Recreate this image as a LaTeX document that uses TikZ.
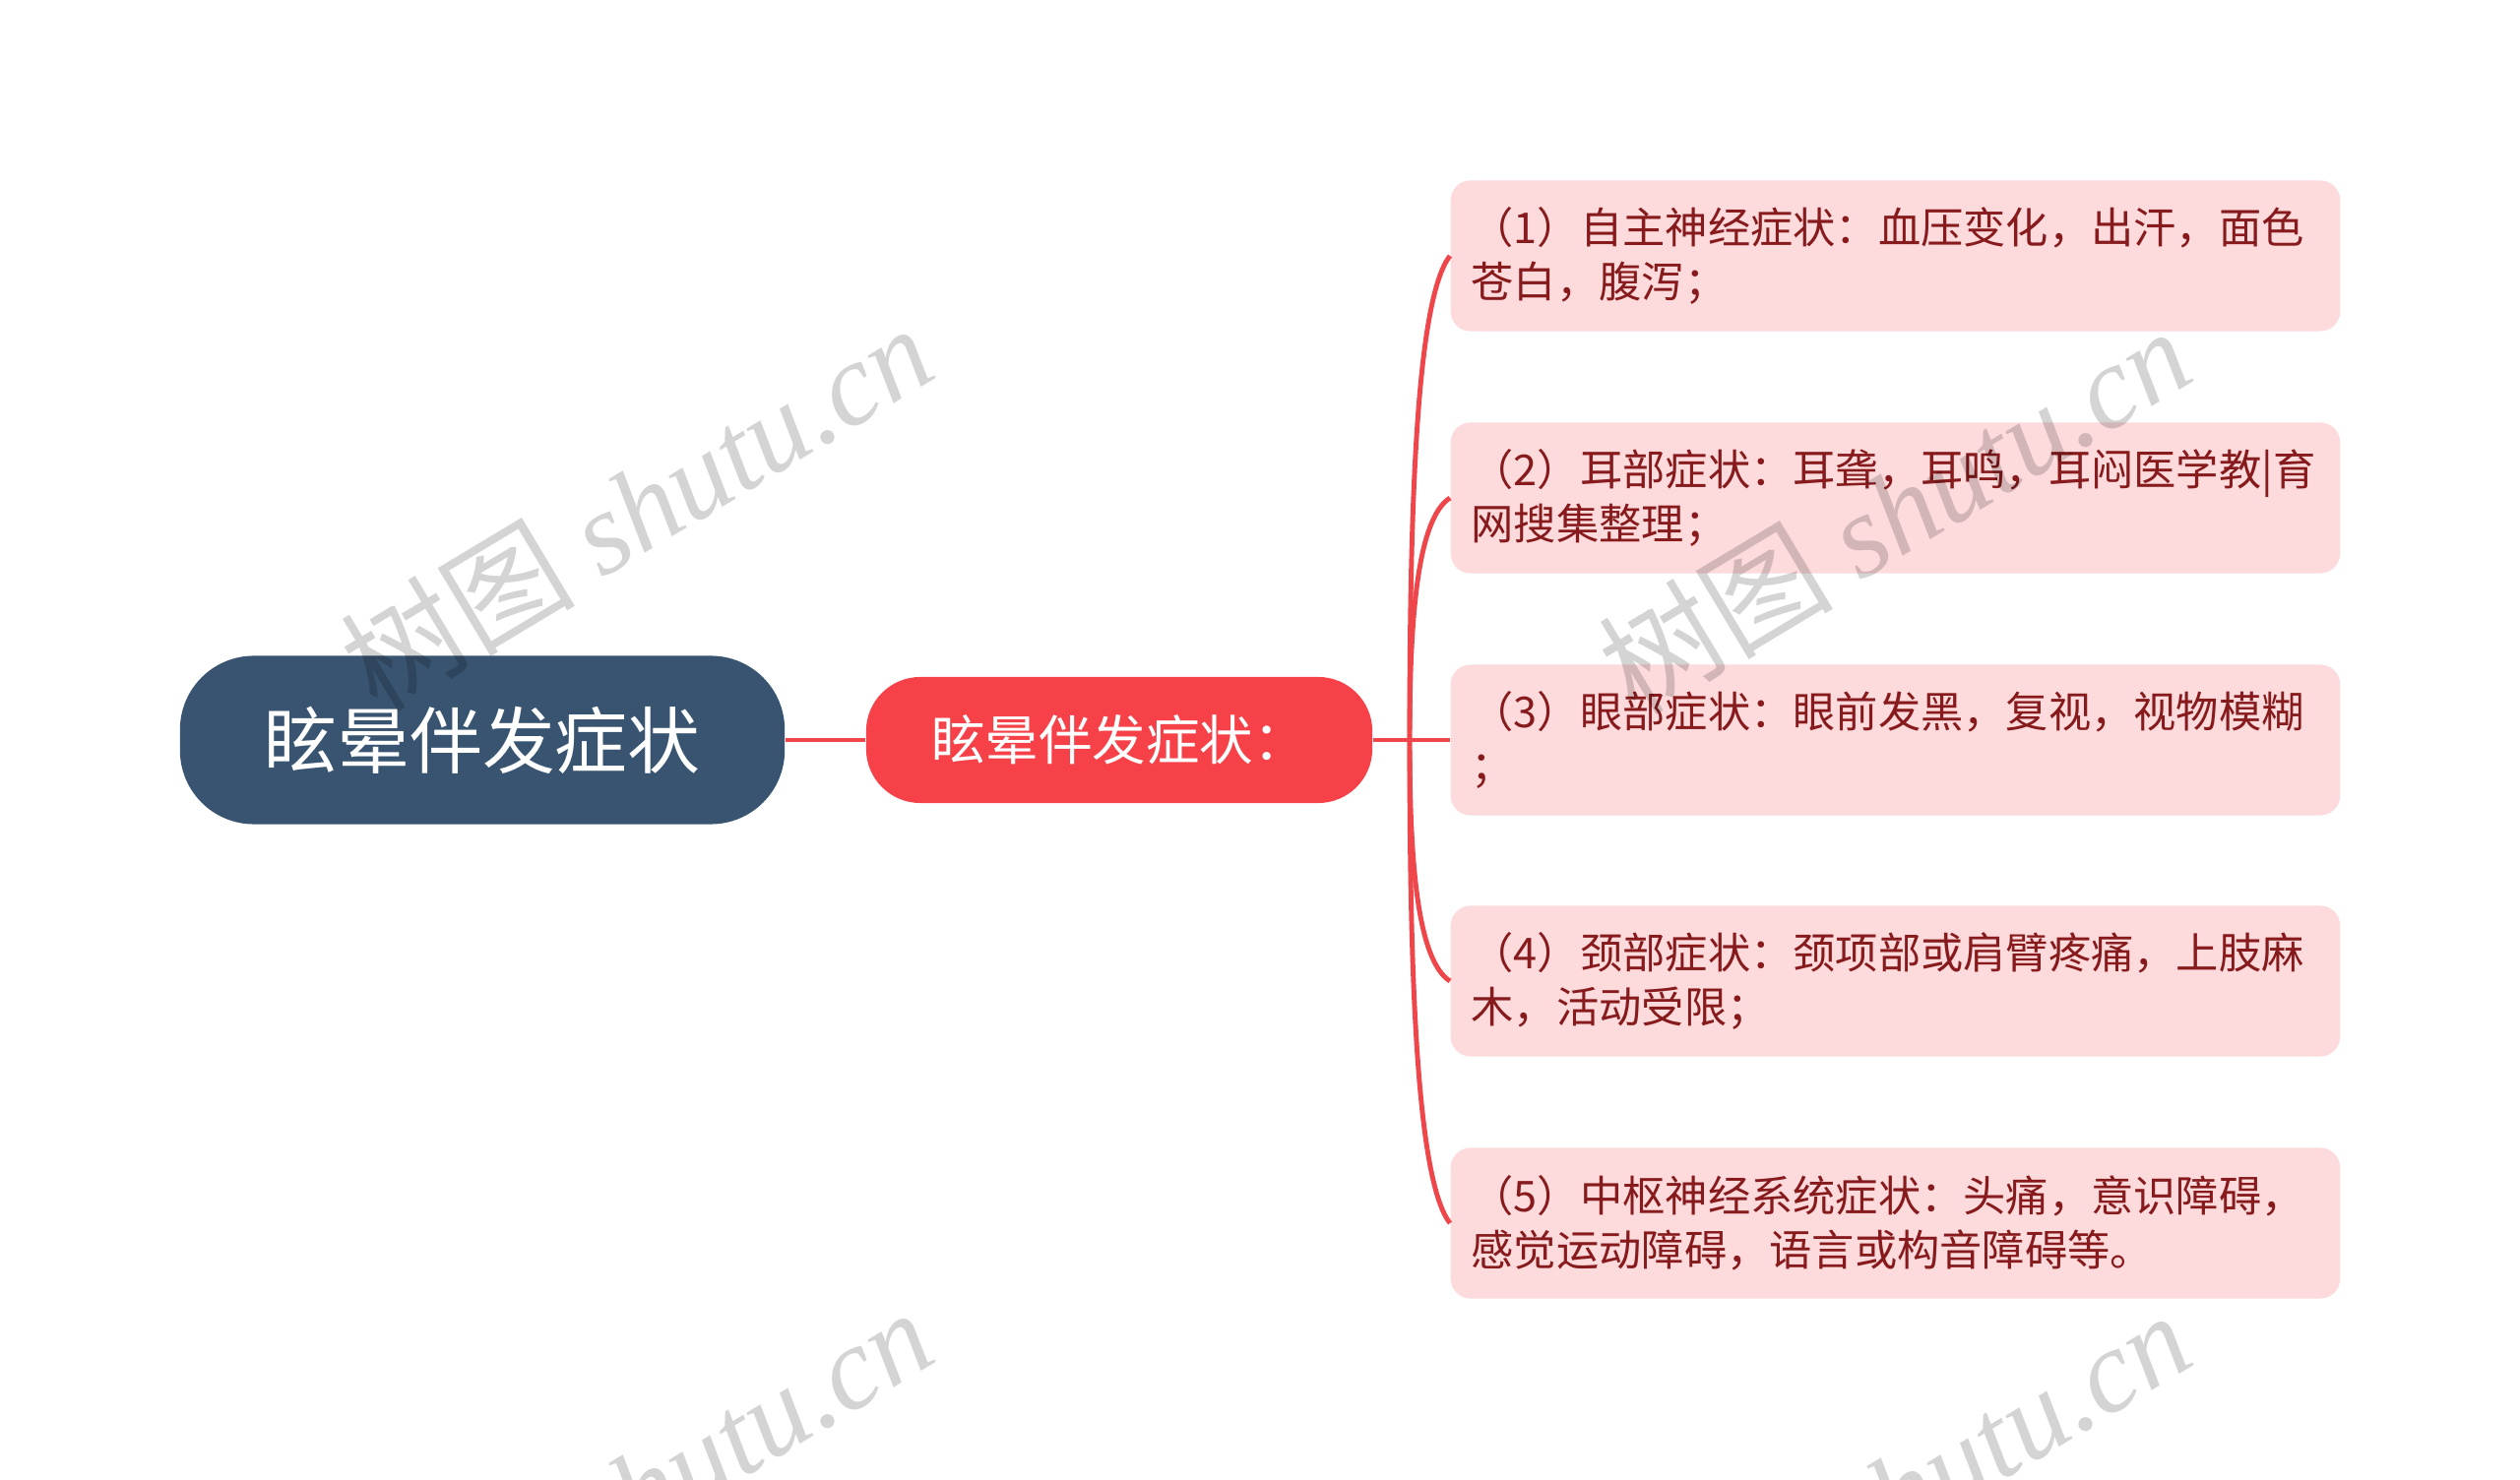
\documentclass[tikz,border=0pt]{standalone}
\usepackage{fontspec}
\setmainfont{Noto Sans CJK SC}
\newfontfamily\cjkfont{Noto Sans CJK SC}
\newfontfamily\wmserif{Liberation Serif}
\definecolor{rootc}{HTML}{385470}
\definecolor{midc}{HTML}{F64148}
\definecolor{leafc}{HTML}{FDDADB}
\definecolor{leaftext}{HTML}{861A1C}
\definecolor{linec}{HTML}{EF464B}
\begin{document}
\begin{tikzpicture}[x=0.01cm,y=-0.01cm,
  rootbox/.style={rectangle, rounded corners=0.75cm, fill=rootc, text=white,
    font=\fontsize{21}{25}\selectfont, minimum width=6.14cm, minimum height=1.71cm, inner sep=0pt},
  midbox/.style={rectangle, rounded corners=0.55cm, fill=midc, text=white,
    font=\fontsize{15.5}{19}\selectfont, minimum width=5.14cm, minimum height=1.28cm, inner sep=0pt},
  leafbox/.style={rectangle, rounded corners=0.2cm, fill=leafc, text=leaftext,
    font=\fontsize{12.3}{15.6}\selectfont, minimum width=9.03cm, minimum height=1.53cm,
    text width=8.61cm, inner xsep=0.21cm, inner ysep=0pt, align=left, anchor=west},
  link/.style={draw=linec, line width=1.4pt},
  wm/.style={rotate=31, text=black, text opacity=0.17, inner sep=0pt,
    font=\fontsize{34}{40}\selectfont}
]
\useasboundingbox (0,0) rectangle (2560,1504);
\clip (0,0) rectangle (2560,1504);
\fill[white] (0,0) rectangle (2560,1504);

\node[rootbox] (root) at (490,752) {眩晕伴发症状};
\node[midbox] (mid) at (1137,752) {眩晕伴发症状：};
\node[leafbox] (l1) at (1473,260) {（1）自主神经症状：血压变化，出汗，面色\\苍白，腹泻；};
\node[leafbox] (l2) at (1473,506) {（2）耳部症状：耳聋，耳鸣，耳闷医学教|育\\网搜集整理；};
\node[leafbox] (l3) at (1473,752) {（3）眼部症状：眼前发黑，复视，视物模糊\\；};
\node[leafbox] (l4) at (1473,997) {（4）颈部症状：颈项部或肩臂疼痛，上肢麻\\木，活动受限；};
\node[leafbox] (l5) at (1473,1243) {（5）中枢神经系统症状：头痛，意识障碍，\\感觉运动障碍，语言或构音障碍等。};

\coordinate (hub) at (1432,752);
\draw[link] (root.east) -- (mid.west);
\draw[link] (mid.east) -- (l3.west);
\draw[link] (hub) .. controls (1432,501) and (1440,302) .. (l1.west);
\draw[link] (hub) .. controls (1432,627) and (1440,527) .. (l2.west);
\draw[link] (hub) .. controls (1432,877) and (1440,976) .. (l4.west);
\draw[link] (hub) .. controls (1432,1002) and (1440,1201) .. (l5.west);

\node[wm] (wm1) at (646,515) {{\cjkfont 树图} {\wmserif\itshape shutu.cn}};
\node[wm] (wm2) at (1924,518) {{\cjkfont 树图} {\wmserif\itshape shutu.cn}};
\node[wm] (wm3) at (646,1515) {{\cjkfont 树图} {\wmserif\itshape shutu.cn}};
\node[wm] (wm4) at (1924,1518) {{\cjkfont 树图} {\wmserif\itshape shutu.cn}};
\end{tikzpicture}
\end{document}
